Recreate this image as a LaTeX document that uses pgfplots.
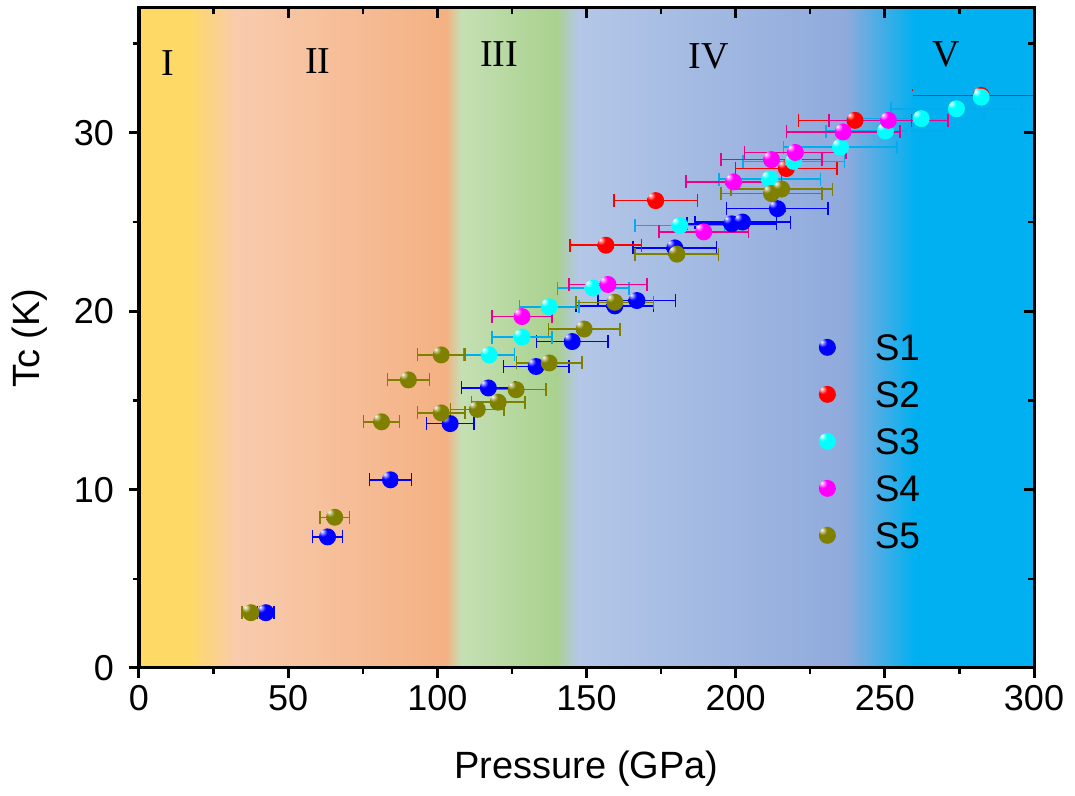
\documentclass[border=0pt]{standalone}
\usepackage{pgfplots}
\usepackage{pgfplotstable}
\pgfplotsset{compat=1.18}
\usepackage{fontspec}
\setmainfont{Liberation Sans}
\newfontfamily\romanfont{Liberation Serif}

% phase-region background colours
\definecolor{bgyellow}{HTML}{FED966}
\definecolor{bgpeach}{HTML}{F8CBAD}
\definecolor{bgorange}{HTML}{F4B183}
\definecolor{bggreenA}{HTML}{C5E0B4}
\definecolor{bggreenB}{HTML}{A9D18E}
\definecolor{bgblueA}{HTML}{B4C7E7}
\definecolor{bgblueB}{HTML}{8FAADC}
\definecolor{bgcyan}{HTML}{00B0F0}
\definecolor{olivec}{HTML}{808000}

% glossy sphere markers: small white highlight, saturated body, darker rim
\newcommand\declaregloss[2]{%
  \pgfdeclareradialshading{gloss#1}{\pgfqpoint{-17bp}{17bp}}{%
    color(0bp)=(white); color(5bp)=(#2!40!white); color(13bp)=(#2);
    color(40bp)=(#2); color(56bp)=(#2!65!black); color(80bp)=(#2!50!black)}%
  \pgfdeclareplotmark{gloss#1}{%
    \pgfpathcircle{\pgfpointorigin}{\pgfplotmarksize}%
    \pgfshadepath{gloss#1}{0}\pgfusepath{discard}}}
\declaregloss{blue}{blue}
\declaregloss{red}{red}
\declaregloss{cyan}{cyan}
\declaregloss{magenta}{magenta}
\declaregloss{olive}{olivec}

% sample data: pressure (GPa), Tc (K), pressure uncertainty (GPa)
\pgfplotstableread{
x y ex
42.5 3.1 2.7
63.2 7.35 5
84.3 10.55 7
104.3 13.7 8
117.1 15.7 9
133.1 16.9 11
145.2 18.3 12
159.5 20.3 13
166.9 20.6 13
179.6 23.55 14
198.7 24.9 15
202.3 25.0 16
214.0 25.75 17
}\sone
\pgfplotstableread{
x y ex
156.5 23.7 12
173.2 26.2 14
217.0 28.0 17
240.0 30.7 19
282.3 32.1 23
}\stwo
\pgfplotstableread{
x y ex
117.4 17.55 8.5
128.4 18.55 10
137.5 20.25 10
152.2 21.3 12
181.3 24.8 15
211.4 27.4 17
219.4 28.4 17
235.1 29.2 19
250.2 30.1 20
262.2 30.8 21
274.0 31.35 22
282.3 32.0 23
}\sthree
\pgfplotstableread{
x y ex
128.4 19.7 10
157.2 21.5 13
189.3 24.45 15
199.3 27.25 16
212.0 28.5 17
220.0 28.9 17
236.0 30.05 19
251.2 30.7 20
}\sfour
\pgfplotstableread{
x y ex
37.5 3.1 3
65.6 8.45 5
81.3 13.8 6
90.3 16.15 7
101.3 17.55 8
101.3 14.3 8
113.4 14.5 9
120.4 14.9 9
126.4 15.6 10
137.5 17.1 11
149.2 19.0 12
159.5 20.5 13
180.3 23.2 14
212.0 26.6 17
215.4 26.85 17
}\sfive

\pgfplotsset{
  frame/.style={
    scale only axis, width=447.5pt, height=330pt,
    at={(69.5pt,64pt)}, anchor=south west,
    xmin=0, xmax=300, ymin=0, ymax=37,
    xtick={0,50,...,300}, ytick={0,10,20,30},
    minor xtick={25,75,...,275}, minor ytick={5,15,25,35},
    axis line style={line width=1.5pt},
  },
  sample/.style 2 args={
    only marks, mark=gloss#1, mark size=4.25pt, color=#2,
    error bars/.cd, x dir=both, x explicit,
    error bar style={line width=0.75pt, #2},
    error mark options={rotate=90, mark size=3.25pt, line width=0.75pt, #2},
  },
}

\begin{document}
\begin{tikzpicture}
\useasboundingbox (0,0) rectangle (537.5pt,398pt);
\begin{axis}[
  frame, axis on top,
  tick align=outside, xtick pos=bottom, ytick pos=left,
  major tick length=5pt, minor tick length=3pt,
  every major tick/.style={line width=1.5pt, black},
  every minor tick/.style={line width=1.2pt, black},
  /pgf/number format/assume math mode=true,
  ticklabel style={font=\fontsize{18}{20}\selectfont},
  yticklabel style={xshift=-4pt},
  xlabel={Pressure (GPa)}, ylabel={Tc (K)},
  every axis x label/.style={at={(axis description cs:0.5,-0.152)}, anchor=center,
    font=\fontsize{19}{22}\selectfont},
  every axis y label/.style={at={(axis description cs:-0.122,0.5)}, anchor=center, rotate=90,
    font=\fontsize{19}{22}\selectfont},
  legend image code/.code={%
    \path (0pt,0pt) (29.5pt,0pt);
    \draw[#1, mark repeat=2, mark phase=2] plot coordinates {(0pt,0pt) (8pt,0pt) (29.5pt,0pt)};},
  legend style={at={(axis cs:225.1,18.95)}, anchor=north west, draw=none, fill=none,
    inner sep=0pt, row sep=6.5pt, font=\fontsize{18.5}{20}\selectfont,
    nodes={inner sep=2pt, text height=13pt, text depth=0pt}},
  legend cell align=left,
]
% background bands of the five regions
\fill[bgyellow] (axis cs:0,0) rectangle (axis cs:17,37);
\fill[left color=bgyellow, right color=bgpeach] (axis cs:16.9,0) rectangle (axis cs:33,37);
\fill[left color=bgpeach, right color=bgorange] (axis cs:32.9,0) rectangle (axis cs:103,37);
\fill[left color=bgorange, right color=bggreenA] (axis cs:102.9,0) rectangle (axis cs:108,37);
\fill[left color=bggreenA, right color=bggreenB] (axis cs:107.9,0) rectangle (axis cs:140,37);
\fill[left color=bggreenB, right color=bgblueA] (axis cs:139.9,0) rectangle (axis cs:147,37);
\fill[left color=bgblueA, right color=bgblueB] (axis cs:146.9,0) rectangle (axis cs:237,37);
\fill[left color=bgblueB, right color=bgcyan] (axis cs:236.9,0) rectangle (axis cs:260,37);
\fill[bgcyan] (axis cs:259.9,0) rectangle (axis cs:300,37);

\node[font=\romanfont\fontsize{19}{19}\selectfont] at (axis cs:9.7,33.9) {I};
\node[font=\romanfont\fontsize{19}{19}\selectfont] at (axis cs:59.9,34.0) {II};
\node[font=\romanfont\fontsize{19}{19}\selectfont] at (axis cs:120.7,34.4) {III};
\node[font=\romanfont\fontsize{19}{19}\selectfont] at (axis cs:191,34.3) {IV};
\node[font=\romanfont\fontsize{19}{19}\selectfont] at (axis cs:270.6,34.4) {V};

\addplot[sample={blue}{blue}] table[x=x, y=y, x error=ex] {\sone};
\addplot[sample={red}{red}] table[x=x, y=y, x error=ex] {\stwo};
\addplot[sample={cyan}{cyan}] table[x=x, y=y, x error=ex] {\sthree};
\addplot[sample={magenta}{magenta}] table[x=x, y=y, x error=ex] {\sfour};
\addplot[sample={olive}{olivec}] table[x=x, y=y, x error=ex] {\sfive};
\legend{S1,S2,S3,S4,S5}
\end{axis}
% inward ticks on the top and right edges
\begin{axis}[
  frame,
  tick align=inside, xtick pos=top, ytick pos=right,
  xticklabels={}, yticklabels={},
  major tick length=5pt, minor tick length=3pt,
  every major tick/.style={line width=1.5pt, black},
  every minor tick/.style={line width=1.2pt, black},
]
\end{axis}
\end{tikzpicture}
\end{document}
